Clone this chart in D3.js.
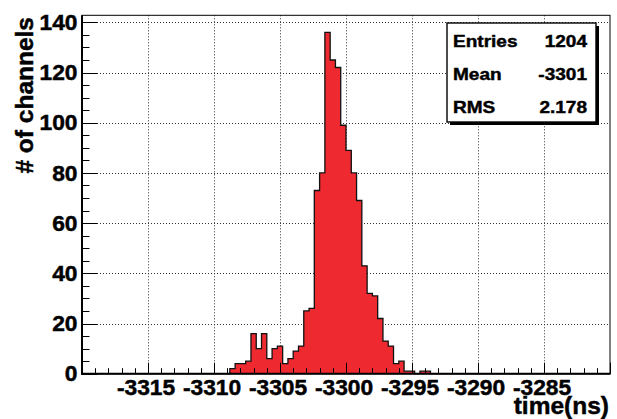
<!DOCTYPE html>
<html><head><meta charset="utf-8">
<script src="https://cdn.jsdelivr.net/npm/d3@7"></script>
<style>html,body{margin:0;padding:0;background:#fff;}svg{display:block;}</style>
</head><body>
<svg id="c" width="617" height="419"></svg>
<script>
// ---- data ----
const binLow = -3320;
const binWidth = 0.4;
const counts = [
  0,0,0,0,0,0,0,0,0,0, 0,0,0,0,0,0,0,0,0,0, 0,0,0,0,0,0,0,0,
  2,4,4,5,16,10,16,6,10,11,4,6,9,11,25,26,73,80,136,125,122,99,89,80,69,43,32,31,22,13,11,4,5,1,1,0,1,1,
  0,0,0,0,0,0,0,0,0,0, 0,0,0,0,0,0,0,0,0,0, 0,0,0,0,0,0,0,0,0,0, 0,0,0,0
];
const xDomain = [-3320, -3280];
const xTickLabels = [-3315, -3310, -3305, -3300, -3295, -3290, -3285];
const yTickLabels = [0, 20, 40, 60, 80, 100, 120, 140];
const statNames = ["Entries", "Mean", "RMS"];
const statValues = ["1204", "-3301", "2.178"];
const xTitle = "time(ns)";
const yTitle = "# of channels";

// ---- drawing ----
const svg = d3.select("#c");
const L = 82, R = 610, T = 15.3, B = 373.7;
const yMax = d3.max(counts) * 1.05;
const x = d3.scaleLinear().domain(xDomain).range([L, R]);
const y = d3.scaleLinear().domain([0, yMax]).range([B, T]);
const font = "'Liberation Sans', Arial, Helvetica, sans-serif";

function boldText(g) {
  return g.attr("font-family", font).attr("font-weight", "bold")
    .attr("fill", "#000").attr("stroke", "#000").attr("stroke-width", 0.45);
}

// grid
const grid = svg.append("g").attr("stroke", "#333").attr("stroke-width", 1).attr("stroke-dasharray", "1,2");
grid.selectAll("line.v").data(xTickLabels).join("line")
  .attr("x1", d => Math.round(x(d)) + 0.5).attr("x2", d => Math.round(x(d)) + 0.5)
  .attr("y1", T).attr("y2", B);
grid.selectAll("line.h").data(yTickLabels.filter(d => d > 0)).join("line")
  .attr("y1", d => Math.round(y(d)) + 0.5).attr("y2", d => Math.round(y(d)) + 0.5)
  .attr("x1", L).attr("x2", R);

// histogram path (step outline)
const pts = [];
counts.forEach((c, i) => {
  const x0 = binLow + i * binWidth, x1 = x0 + binWidth;
  pts.push([x(x0), y(c)], [x(x1), y(c)]);
});
const area = d3.area().x(d => d[0]).y0(B).y1(d => d[1]);
svg.append("path").attr("d", area(pts)).attr("fill", "#ee2a30").attr("stroke", "none");
const line = d3.line().x(d => d[0]).y(d => d[1]);
svg.append("path").attr("d", line(pts)).attr("fill", "none").attr("stroke", "#111").attr("stroke-width", 1.3);

// frame
svg.append("rect").attr("x", L).attr("y", T).attr("width", R - L).attr("height", B - T)
  .attr("fill", "none").attr("stroke", "#000").attr("stroke-width", 1);

// x axis ticks
const xMinor = d3.range(xDomain[0], xDomain[1] + 0.001, 1);
svg.append("g").selectAll("line").data(xMinor).join("line")
  .attr("x1", d => Math.round(x(d)) + 0.5).attr("x2", d => Math.round(x(d)) + 0.5)
  .attr("y1", B).attr("y2", d => B - ((Math.round(d) % 5 === 0) ? 11 : 5.5))
  .attr("stroke", "#000").attr("stroke-width", 1);
svg.append("line").attr("x1", L - 1).attr("x2", R + 0.5).attr("y1", B).attr("y2", B)
  .attr("stroke", "#000").attr("stroke-width", 2);

// y axis ticks
const yMinor = d3.range(0, yMax, 5);
svg.append("g").selectAll("line").data(yMinor).join("line")
  .attr("y1", d => Math.round(y(d)) + 0.5).attr("y2", d => Math.round(y(d)) + 0.5)
  .attr("x1", L).attr("x2", d => L + ((d % 20 === 0) ? 15.5 : 7.5))
  .attr("stroke", "#000").attr("stroke-width", 1);
svg.append("line").attr("x1", L).attr("x2", L).attr("y1", T).attr("y2", B + 1)
  .attr("stroke", "#000").attr("stroke-width", 2);

// tick labels
boldText(svg.append("g")).selectAll("text").data(xTickLabels).join("text")
  .attr("transform", d => `translate(${x(d) - 2},395) scale(1.06,1)`)
  .attr("text-anchor", "middle").attr("font-size", 21.5).text(d => d);
boldText(svg.append("g")).selectAll("text").data(yTickLabels).join("text")
  .attr("transform", d => `translate(77.5,${y(d) + 7.6}) scale(1.06,1)`)
  .attr("text-anchor", "end").attr("font-size", 21.5).text(d => d);

// titles
boldText(svg.append("text")).attr("x", 609).attr("y", 414).attr("text-anchor", "end")
  .attr("font-size", 24.5).text(xTitle);
boldText(svg.append("text")).attr("transform", "translate(33,17) rotate(-90)").attr("text-anchor", "end")
  .attr("font-size", 24.5).text(yTitle);

// stats box
const bx = 447, by = 23, bw = 149, bh = 99;
svg.append("rect").attr("x", bx + 3).attr("y", by + 3).attr("width", bw).attr("height", bh).attr("fill", "#000");
svg.append("rect").attr("x", bx).attr("y", by).attr("width", bw).attr("height", bh)
  .attr("fill", "#fff").attr("stroke", "#000").attr("stroke-width", 1.4);
const sg = boldText(svg.append("g")).attr("font-size", 17);
statNames.forEach((n, i) => {
  const yy = by + 23.5 + i * 33.3;
  sg.append("text").attr("transform", `translate(${bx + 6},${yy}) scale(1.12,1)`).text(n);
  sg.append("text").attr("transform", `translate(${bx + bw - 9},${yy}) scale(1.12,1)`)
    .attr("text-anchor", "end").text(statValues[i]);
});
</script>
</body></html>
